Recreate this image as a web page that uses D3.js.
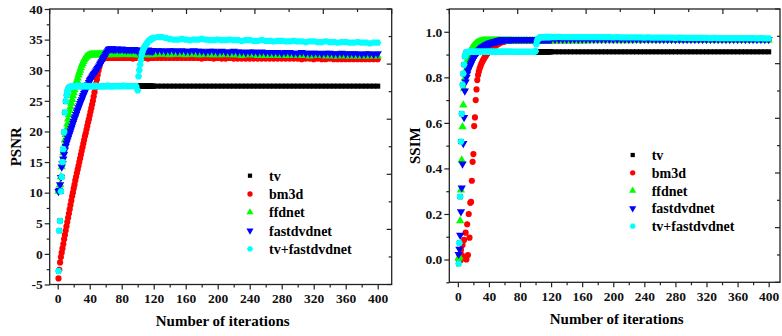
<!DOCTYPE html>
<html>
<head>
<meta charset="utf-8">
<script src="https://cdn.jsdelivr.net/npm/d3@7"></script>
<style>
  body { margin: 0; background: #fff; }
  svg { display: block; font-family: 'Liberation Serif', 'Times New Roman', serif; font-weight: bold; }
</style>
</head>
<body>
<svg id="chart" width="782" height="336"></svg>
<script>
// iteration grid shared by every series (dense where the curves move fast)
const iterations = [...d3.range(1, 71), ...d3.range(72, 101, 2), ...d3.range(101, 121), ...d3.range(125, 401, 5)];

const seriesNames = ['tv', 'bm3d', 'ffdnet', 'fastdvdnet', 'tv+fastdvdnet'];
const seriesColors = ['#000000', '#ff0000', '#00ff00', '#0000ff', '#00ffff'];

const xTicks = [0, 40, 80, 120, 160, 200, 240, 280, 320, 360, 400];
const psnrTicks = [-5, 0, 5, 10, 15, 20, 25, 30, 35, 40];
const ssimTicks = [0, 0.2, 0.4, 0.6, 0.8, 1.0];

// ---- PSNR ----
const tvPsnr = [
  -2.8, 3.8, 5.4, 10.2, 12.6, 15.0, 17.1, 19.9, 23.1, 24.9,
  25.9, 26.5, 26.9, 27.1, 27.2, 27.3, 27.3, 27.3, 27.4, 27.4,
  27.4, 27.4, 27.4, 27.4, 27.4, 27.4, 27.4, 27.4, 27.4, 27.4,
  27.4, 27.4, 27.4, 27.4, 27.4, 27.4, 27.4, 27.4, 27.4, 27.4,
  27.4, 27.4, 27.4, 27.4, 27.4, 27.4, 27.4, 27.4, 27.4, 27.4,
  27.4, 27.4, 27.4, 27.4, 27.4, 27.4, 27.4, 27.4, 27.4, 27.4,
  27.4, 27.4, 27.4, 27.4, 27.4, 27.4, 27.4, 27.4, 27.4, 27.4,
  27.4, 27.4, 27.4, 27.4, 27.4, 27.4, 27.4, 27.4, 27.4, 27.4, 27.4, 27.4, 27.4, 27.4, 27.4,
  27.4, 27.4, 27.4, 27.4, 27.4, 27.4, 27.4, 27.4, 27.4, 27.4,
  27.4, 27.4, 27.4, 27.4, 27.4, 27.4, 27.4, 27.4, 27.4, 27.4,
  27.4, 27.4, 27.4, 27.4, 27.4, 27.4, 27.4, 27.4, 27.4, 27.4,
  27.4, 27.4, 27.4, 27.4, 27.4, 27.4, 27.4, 27.4, 27.4, 27.4,
  27.4, 27.4, 27.4, 27.4, 27.4, 27.4, 27.4, 27.4, 27.4, 27.4,
  27.4, 27.4, 27.4, 27.4, 27.4, 27.4, 27.4, 27.4, 27.4, 27.4,
  27.4, 27.4, 27.4, 27.4, 27.4, 27.4, 27.4, 27.4, 27.4, 27.4,
  27.4, 27.4, 27.4, 27.4, 27.4, 27.4
];
const bm3dPsnr = [
  -4.0, -2.6, -1.4, -0.5, 0.2, 0.9, 1.6, 2.4, 3.1, 3.8,
  4.5, 5.2, 5.9, 6.6, 7.3, 8.0, 8.7, 9.4, 10.0, 10.7,
  11.3, 12.0, 12.6, 13.2, 13.8, 14.4, 15.0, 15.6, 16.2, 16.8,
  17.4, 18.0, 18.6, 19.2, 19.7, 20.3, 20.9, 21.5, 22.0, 22.6,
  23.2, 23.8, 24.4, 25.0, 25.7, 26.4, 27.1, 27.8, 28.5, 29.2,
  29.9, 30.5, 31.0, 31.4, 31.6, 31.8, 31.9, 31.9, 32.0, 32.0,
  32.0, 32.0, 32.0, 32.0, 32.0, 32.1, 32.0, 32.0, 32.0, 32.0,
  32.0, 32.0, 32.0, 32.1, 32.0, 32.0, 32.0, 32.0, 32.0, 32.0, 32.0, 31.9, 32.0, 32.0, 32.0,
  32.0, 32.0, 32.0, 32.0, 31.9, 32.0, 32.0, 32.0, 32.0, 32.0,
  32.0, 32.0, 31.9, 32.0, 32.0, 32.0, 32.0, 32.0, 32.0, 32.0,
  32.0, 32.0, 32.0, 32.0, 32.0, 32.0, 32.0, 32.0, 32.0, 32.0,
  32.0, 31.9, 32.0, 32.0, 31.9, 32.0, 31.9, 31.9, 32.0, 31.9,
  31.9, 31.9, 31.9, 31.9, 31.9, 31.9, 31.9, 31.9, 31.9, 31.9,
  31.9, 31.9, 31.9, 31.9, 31.9, 31.9, 31.8, 31.9, 31.9, 31.8,
  31.9, 31.8, 31.8, 31.9, 31.8, 31.8, 31.8, 31.8, 31.8, 31.8,
  31.8, 31.8, 31.8, 31.8, 31.8, 31.8
];
const ffdnetPsnr = [
  10.2, 10.5, 11.3, 12.6, 14.2, 15.3, 16.5, 17.6, 18.6, 19.5,
  20.4, 21.2, 22.0, 22.7, 23.4, 24.0, 24.6, 25.2, 25.8, 26.3,
  26.8, 27.3, 27.8, 28.3, 28.7, 29.2, 29.6, 30.0, 30.4, 30.8,
  31.1, 31.4, 31.7, 31.9, 32.1, 32.2, 32.3, 32.4, 32.4, 32.5,
  32.5, 32.5, 32.6, 32.5, 32.5, 32.6, 32.5, 32.5, 32.6, 32.6,
  32.5, 32.6, 32.6, 32.5, 32.6, 32.6, 32.6, 32.5, 32.6, 32.6,
  32.6, 32.6, 32.5, 32.6, 32.6, 32.6, 32.6, 32.6, 32.5, 32.6,
  32.6, 32.6, 32.6, 32.5, 32.6, 32.6, 32.6, 32.6, 32.6, 32.5, 32.6, 32.6, 32.6, 32.6, 32.5,
  32.5, 32.5, 32.6, 32.6, 32.5, 32.6, 32.6, 32.6, 32.5, 32.6,
  32.6, 32.6, 32.6, 32.5, 32.6, 32.6, 32.6, 32.6, 32.5, 32.6,
  32.6, 32.6, 32.6, 32.5, 32.6, 32.6, 32.6, 32.5, 32.6, 32.6,
  32.5, 32.5, 32.6, 32.5, 32.5, 32.5, 32.5, 32.6, 32.5, 32.5,
  32.5, 32.4, 32.5, 32.5, 32.5, 32.4, 32.5, 32.4, 32.4, 32.5,
  32.4, 32.4, 32.4, 32.5, 32.4, 32.4, 32.4, 32.4, 32.3, 32.4,
  32.4, 32.4, 32.3, 32.4, 32.3, 32.3, 32.4, 32.3, 32.3, 32.3,
  32.3, 32.3, 32.3, 32.3, 32.3, 32.3
];
const fastdvdnetPsnr = [
  10.2, 10.4, 11.3, 12.5, 14.2, 14.8, 15.5, 16.3, 17.0, 17.6,
  18.1, 18.5, 18.9, 19.3, 19.7, 20.1, 20.5, 20.9, 21.3, 21.7,
  22.1, 22.4, 22.8, 23.2, 23.5, 23.9, 24.2, 24.6, 24.9, 25.2,
  25.6, 25.9, 26.2, 26.5, 26.8, 27.1, 27.4, 27.7, 28.0, 28.3,
  28.5, 28.7, 28.9, 29.1, 29.3, 29.5, 29.7, 29.9, 30.1, 30.3,
  30.5, 30.7, 31.0, 31.2, 31.4, 31.7, 31.9, 32.1, 32.3, 32.6,
  32.8, 33.0, 33.2, 33.4, 33.5, 33.5, 33.5, 33.5, 33.5, 33.4,
  33.4, 33.5, 33.4, 33.4, 33.5, 33.4, 33.4, 33.3, 33.4, 33.4, 33.3, 33.4, 33.4, 33.3, 33.2,
  33.0, 33.1, 33.1, 33.2, 33.2, 33.2, 33.3, 33.2, 33.2, 33.2,
  33.2, 33.2, 33.3, 33.2, 33.2, 33.2, 33.2, 33.1, 33.2, 33.2,
  33.2, 33.2, 33.1, 33.2, 33.2, 33.1, 33.2, 33.1, 33.1, 33.2,
  33.1, 33.1, 33.0, 33.1, 33.1, 33.0, 33.1, 33.0, 33.0, 33.1,
  33.0, 33.0, 32.9, 33.0, 33.0, 32.9, 33.0, 32.9, 32.9, 32.9,
  32.9, 32.8, 32.9, 32.9, 32.8, 32.8, 32.9, 32.8, 32.8, 32.8,
  32.8, 32.7, 32.8, 32.8, 32.7, 32.7, 32.8, 32.7, 32.7, 32.7,
  32.7, 32.6, 32.7, 32.7, 32.6, 32.7
];
const tvFastPsnr = [
  -2.8, 3.8, 5.4, 10.2, 12.6, 15.0, 17.1, 19.9, 23.1, 24.9,
  25.9, 26.5, 26.9, 27.1, 27.2, 27.3, 27.3, 27.3, 27.4, 27.4,
  27.4, 27.4, 27.4, 27.4, 27.5, 27.4, 27.4, 27.4, 27.4, 27.4,
  27.4, 27.4, 27.4, 27.5, 27.4, 27.4, 27.4, 27.4, 27.4, 27.4,
  27.4, 27.4, 27.4, 27.4, 27.4, 27.4, 27.5, 27.4, 27.4, 27.4,
  27.4, 27.4, 27.4, 27.4, 27.4, 27.4, 27.4, 27.4, 27.4, 27.4,
  27.4, 27.4, 27.5, 27.4, 27.4, 27.4, 27.4, 27.4, 27.4, 27.4,
  27.4, 27.4, 27.4, 27.4, 27.4, 27.5, 27.4, 27.4, 27.4, 27.4, 27.4, 27.4, 27.4, 27.4, 26.7,
  29.0, 30.0, 30.9, 31.7, 32.5, 33.0, 33.4, 33.7, 33.9, 34.1,
  34.3, 34.5, 34.7, 34.8, 34.9, 35.0, 35.1, 35.2, 35.2, 35.3,
  35.4, 35.4, 35.3, 35.1, 35.0, 35.0, 35.1, 35.0, 34.9, 35.0,
  35.0, 35.1, 35.0, 34.9, 34.9, 35.0, 34.9, 34.9, 35.0, 34.9,
  34.9, 34.8, 34.9, 34.9, 34.8, 34.8, 34.9, 34.8, 34.8, 34.7,
  34.8, 34.8, 34.7, 34.7, 34.8, 34.7, 34.7, 34.6, 34.7, 34.7,
  34.6, 34.6, 34.7, 34.6, 34.6, 34.5, 34.6, 34.6, 34.5, 34.5,
  34.6, 34.5, 34.5, 34.4, 34.5, 34.5
];

// ---- SSIM ----
const tvSsim = [
  -0.018, 0.073, 0.276, 0.518, 0.640, 0.768, 0.816, 0.856, 0.892, 0.905,
  0.909, 0.911, 0.912, 0.912, 0.912, 0.912, 0.912, 0.912, 0.912, 0.912,
  0.912, 0.912, 0.912, 0.912, 0.912, 0.912, 0.912, 0.912, 0.912, 0.912,
  0.912, 0.912, 0.912, 0.912, 0.912, 0.912, 0.912, 0.912, 0.912, 0.912,
  0.912, 0.912, 0.912, 0.912, 0.912, 0.912, 0.912, 0.912, 0.912, 0.912,
  0.912, 0.912, 0.912, 0.912, 0.912, 0.912, 0.912, 0.912, 0.912, 0.912,
  0.912, 0.912, 0.912, 0.912, 0.912, 0.912, 0.912, 0.912, 0.912, 0.912,
  0.912, 0.912, 0.912, 0.912, 0.912, 0.912, 0.912, 0.912, 0.912, 0.912, 0.912, 0.912, 0.912, 0.912, 0.912,
  0.912, 0.912, 0.912, 0.912, 0.912, 0.912, 0.912, 0.912, 0.912, 0.912,
  0.912, 0.912, 0.912, 0.912, 0.912, 0.912, 0.912, 0.912, 0.912, 0.912,
  0.912, 0.912, 0.912, 0.912, 0.912, 0.912, 0.912, 0.912, 0.912, 0.912,
  0.912, 0.912, 0.912, 0.912, 0.912, 0.912, 0.912, 0.912, 0.912, 0.912,
  0.912, 0.912, 0.912, 0.912, 0.912, 0.912, 0.912, 0.912, 0.912, 0.912,
  0.912, 0.912, 0.912, 0.912, 0.912, 0.912, 0.912, 0.912, 0.912, 0.912,
  0.912, 0.912, 0.912, 0.912, 0.912, 0.912, 0.912, 0.912, 0.912, 0.912,
  0.912, 0.912, 0.912, 0.912, 0.912, 0.912
];
const bm3dSsim = [
  0.000, 0.020, -0.005, 0.042, 0.020, 0.064, 0.005, 0.086, 0.010, 0.118,
  0.000, 0.155, 0.020, 0.200, 0.096, 0.249, 0.253, 0.346, 0.429, 0.463,
  0.586, 0.624, 0.700, 0.747, 0.788, 0.810, 0.825, 0.838, 0.848, 0.857,
  0.865, 0.872, 0.878, 0.884, 0.890, 0.895, 0.900, 0.905, 0.909, 0.913,
  0.917, 0.920, 0.924, 0.927, 0.930, 0.933, 0.936, 0.938, 0.941, 0.943,
  0.945, 0.947, 0.949, 0.951, 0.953, 0.954, 0.955, 0.956, 0.957, 0.958,
  0.959, 0.959, 0.960, 0.960, 0.960, 0.961, 0.961, 0.961, 0.961, 0.961,
  0.961, 0.961, 0.961, 0.962, 0.961, 0.962, 0.962, 0.962, 0.962, 0.962, 0.962, 0.962, 0.962, 0.962, 0.962,
  0.962, 0.962, 0.962, 0.962, 0.962, 0.962, 0.962, 0.962, 0.962, 0.962,
  0.962, 0.962, 0.962, 0.962, 0.962, 0.962, 0.962, 0.962, 0.962, 0.962,
  0.962, 0.962, 0.962, 0.962, 0.962, 0.963, 0.962, 0.963, 0.963, 0.963,
  0.963, 0.963, 0.963, 0.963, 0.963, 0.963, 0.963, 0.963, 0.963, 0.963,
  0.963, 0.964, 0.963, 0.964, 0.964, 0.964, 0.964, 0.964, 0.964, 0.964,
  0.964, 0.964, 0.964, 0.964, 0.964, 0.965, 0.964, 0.965, 0.965, 0.965,
  0.965, 0.965, 0.965, 0.965, 0.965, 0.965, 0.965, 0.965, 0.965, 0.965,
  0.965, 0.965, 0.965, 0.965, 0.965, 0.965
];
const ffdnetSsim = [
  0.005, 0.012, 0.170, 0.305, 0.437, 0.583, 0.678, 0.750, 0.795, 0.830,
  0.855, 0.872, 0.886, 0.897, 0.906, 0.914, 0.921, 0.927, 0.932, 0.937,
  0.941, 0.944, 0.947, 0.950, 0.952, 0.954, 0.955, 0.956, 0.957, 0.958,
  0.959, 0.959, 0.960, 0.960, 0.960, 0.960, 0.960, 0.960, 0.960, 0.960,
  0.960, 0.960, 0.960, 0.960, 0.960, 0.960, 0.960, 0.960, 0.960, 0.960,
  0.960, 0.960, 0.960, 0.960, 0.960, 0.960, 0.960, 0.960, 0.960, 0.960,
  0.960, 0.960, 0.960, 0.960, 0.960, 0.960, 0.960, 0.960, 0.960, 0.960,
  0.960, 0.960, 0.960, 0.960, 0.960, 0.960, 0.960, 0.960, 0.960, 0.960, 0.960, 0.960, 0.960, 0.960, 0.960,
  0.960, 0.960, 0.960, 0.960, 0.960, 0.960, 0.960, 0.960, 0.960, 0.960,
  0.960, 0.960, 0.960, 0.960, 0.960, 0.960, 0.960, 0.960, 0.960, 0.960,
  0.960, 0.960, 0.960, 0.960, 0.960, 0.960, 0.960, 0.960, 0.960, 0.961,
  0.961, 0.961, 0.961, 0.961, 0.961, 0.961, 0.961, 0.961, 0.961, 0.961,
  0.962, 0.962, 0.962, 0.962, 0.962, 0.962, 0.962, 0.962, 0.962, 0.962,
  0.962, 0.963, 0.963, 0.963, 0.963, 0.963, 0.963, 0.963, 0.963, 0.963,
  0.963, 0.963, 0.964, 0.964, 0.964, 0.964, 0.964, 0.964, 0.964, 0.964,
  0.964, 0.964, 0.964, 0.964, 0.964, 0.964
];
const fastdvdnetSsim = [
  0.023, 0.046, 0.107, 0.210, 0.315, 0.420, 0.510, 0.624, 0.740, 0.780,
  0.800, 0.815, 0.828, 0.838, 0.845, 0.852, 0.860, 0.868, 0.875, 0.882,
  0.888, 0.894, 0.899, 0.904, 0.909, 0.913, 0.917, 0.921, 0.924, 0.927,
  0.930, 0.933, 0.935, 0.937, 0.939, 0.941, 0.943, 0.945, 0.947, 0.948,
  0.950, 0.951, 0.952, 0.953, 0.954, 0.955, 0.956, 0.957, 0.958, 0.959,
  0.960, 0.961, 0.962, 0.963, 0.963, 0.964, 0.965, 0.965, 0.966, 0.966,
  0.967, 0.967, 0.967, 0.967, 0.967, 0.967, 0.967, 0.967, 0.967, 0.967,
  0.967, 0.967, 0.967, 0.967, 0.967, 0.967, 0.967, 0.967, 0.967, 0.967, 0.967, 0.967, 0.967, 0.967, 0.967,
  0.967, 0.967, 0.967, 0.967, 0.967, 0.967, 0.967, 0.967, 0.967, 0.967,
  0.967, 0.967, 0.967, 0.967, 0.967, 0.967, 0.967, 0.967, 0.967, 0.967,
  0.967, 0.967, 0.967, 0.967, 0.967, 0.967, 0.967, 0.967, 0.967, 0.967,
  0.967, 0.967, 0.967, 0.967, 0.967, 0.967, 0.967, 0.967, 0.967, 0.967,
  0.967, 0.967, 0.967, 0.967, 0.966, 0.967, 0.966, 0.966, 0.966, 0.966,
  0.966, 0.966, 0.966, 0.966, 0.966, 0.966, 0.966, 0.966, 0.966, 0.966,
  0.966, 0.966, 0.966, 0.966, 0.966, 0.966, 0.966, 0.966, 0.966, 0.966,
  0.966, 0.966, 0.966, 0.966, 0.966, 0.966
];
const tvFastSsim = [
  -0.018, 0.073, 0.276, 0.518, 0.640, 0.768, 0.816, 0.856, 0.892, 0.905,
  0.909, 0.911, 0.912, 0.912, 0.912, 0.912, 0.912, 0.912, 0.912, 0.912,
  0.912, 0.912, 0.912, 0.912, 0.912, 0.912, 0.912, 0.912, 0.912, 0.912,
  0.912, 0.912, 0.912, 0.912, 0.912, 0.912, 0.912, 0.912, 0.912, 0.912,
  0.912, 0.912, 0.912, 0.912, 0.912, 0.912, 0.912, 0.912, 0.912, 0.912,
  0.912, 0.912, 0.912, 0.912, 0.912, 0.912, 0.912, 0.912, 0.912, 0.912,
  0.912, 0.912, 0.912, 0.912, 0.912, 0.912, 0.912, 0.912, 0.912, 0.912,
  0.912, 0.912, 0.912, 0.912, 0.912, 0.912, 0.912, 0.912, 0.912, 0.912, 0.912, 0.912, 0.912, 0.912, 0.915,
  0.945, 0.960, 0.968, 0.972, 0.974, 0.975, 0.976, 0.976, 0.977, 0.977,
  0.977, 0.977, 0.978, 0.977, 0.977, 0.978, 0.977, 0.977, 0.978, 0.977,
  0.977, 0.978, 0.977, 0.977, 0.977, 0.977, 0.977, 0.976, 0.977, 0.976,
  0.976, 0.976, 0.976, 0.976, 0.976, 0.975, 0.976, 0.975, 0.975, 0.975,
  0.975, 0.975, 0.975, 0.974, 0.975, 0.974, 0.974, 0.974, 0.974, 0.974,
  0.974, 0.973, 0.974, 0.973, 0.973, 0.973, 0.973, 0.973, 0.973, 0.973,
  0.972, 0.973, 0.972, 0.972, 0.972, 0.972, 0.972, 0.972, 0.972, 0.972,
  0.972, 0.972, 0.971, 0.972, 0.971, 0.971
];

const svg = d3.select('#chart');
const MIRROR_STEP = 34.2; // spacing of the ticks on the top / right frame edges

// hexagon marker for the last series
const symbolHexagon = {
  draw(context, size) {
    const r = Math.sqrt(size / 2.598);
    for (let k = 0; k < 6; k++) {
      const a = Math.PI / 3 * k;
      if (k === 0) context.moveTo(r * Math.cos(a), r * Math.sin(a));
      else context.lineTo(r * Math.cos(a), r * Math.sin(a));
    }
    context.closePath();
  }
};

// Origin style markers: square, circle, up triangle, down triangle, hexagon
const symbols = [
  d3.symbol(d3.symbolSquare, 26),
  d3.symbol(d3.symbolCircle, 30),
  d3.symbol(d3.symbolTriangle, 30),
  d3.symbol(d3.symbolTriangle, 30),
  d3.symbol(symbolHexagon, 34),
];
const legendSymbols = [
  d3.symbol(d3.symbolSquare, 18),
  d3.symbol(d3.symbolCircle, 22),
  d3.symbol(d3.symbolTriangle, 22),
  d3.symbol(d3.symbolTriangle, 22),
  d3.symbol(symbolHexagon, 24),
];
const markerRotate = i => (i === 3 ? ' rotate(180)' : '');

function drawPanel(p) {
  const g = svg.append('g');
  const [xl, xr] = p.x.range();
  const [yb, yt] = p.y.range();

  // Draw each series as dense scatter markers
  p.series.forEach((values, i) => {
    g.append('g')
      .attr('class', 'series')
      .selectAll('path')
      .data(values.map((v, k) => [iterations[k], v]))
      .join('path')
      .attr('transform', d => `translate(${p.x(d[0])},${p.y(d[1])})${markerRotate(i)}`)
      .attr('d', symbols[i]())
      .attr('fill', seriesColors[i]);
  });

  // Frame
  g.append('rect')
    .attr('x', xl).attr('y', yt)
    .attr('width', xr - xl).attr('height', yb - yt)
    .attr('fill', 'none').attr('stroke', '#222').attr('stroke-width', 1.3);

  // Bottom axis: minor + labelled major ticks
  const xMinor = d3.range(0, 401, 20).filter(v => !xTicks.includes(v));
  g.append('g')
    .attr('transform', `translate(0,${yb})`)
    .call(d3.axisBottom(p.x).tickValues(xMinor).tickSize(3).tickFormat(''));
  g.append('g')
    .attr('transform', `translate(0,${yb})`)
    .call(d3.axisBottom(p.x).tickValues(xTicks).tickSize(5).tickPadding(4).tickFormat(d3.format('d')));

  // Left axis
  g.append('g')
    .attr('transform', `translate(${xl},0)`)
    .call(d3.axisLeft(p.y).tickValues(p.yMinor).tickSize(3).tickFormat(''));
  g.append('g')
    .attr('transform', `translate(${xl},0)`)
    .call(d3.axisLeft(p.y).tickValues(p.yTicks).tickSize(5).tickPadding(2).tickFormat(p.yFormat));

  g.selectAll('.domain').remove();
  g.selectAll('.tick line').attr('stroke', '#222').attr('stroke-width', 1.2);
  g.selectAll('.tick text')
    .attr('fill', '#111')
    .attr('font-size', 13.5)
    .attr('font-family', "'Liberation Serif', serif")
    .attr('font-weight', 'bold');

  // Mirror ticks on top and right edges (inward)
  const topT = d3.range(0, xr - xl + 0.5, MIRROR_STEP);
  g.append('g').selectAll('line').data(topT).join('line')
    .attr('x1', d => xl + d).attr('x2', d => xl + d)
    .attr('y1', yt).attr('y2', (d, i) => yt + (i % 2 ? 3 : 5))
    .attr('stroke', '#222').attr('stroke-width', 1.2);
  const rightStep = (yb - yt) / 10;
  g.append('g').selectAll('line').data(d3.range(0, 11)).join('line')
    .attr('y1', d => yt + d * rightStep).attr('y2', d => yt + d * rightStep)
    .attr('x1', xr).attr('x2', (d, i) => xr - (i % 2 ? 3 : 5))
    .attr('stroke', '#222').attr('stroke-width', 1.2);

  // Axis titles
  g.append('text')
    .attr('x', (xl + xr) / 2 + 2).attr('y', p.xTitleY)
    .attr('text-anchor', 'middle').attr('font-size', 15)
    .text('Number of iterations');
  g.append('text')
    .attr('transform', `translate(${p.yTitleX},${(yb + yt) / 2}) rotate(-90)`)
    .attr('text-anchor', 'middle').attr('font-size', 15)
    .text(p.yTitle);

  // Legend
  const legend = g.append('g').attr('transform', `translate(${p.legendX},${p.legendY})`);
  const item = legend.selectAll('g').data(seriesNames).join('g')
    .attr('transform', (d, i) => `translate(0,${i * p.legendStep})`);
  item.append('path')
    .attr('transform', (d, i) => `translate(0,0)${markerRotate(i)}`)
    .attr('d', (d, i) => legendSymbols[i]())
    .attr('fill', (d, i) => seriesColors[i]);
  item.append('text')
    .attr('x', 19).attr('dy', '0.35em')
    .attr('font-size', 14)
    .text(d => d);
}

drawPanel({
  x: d3.scaleLinear().domain([-10, 417.5]).range([49.7, 391.7]),
  y: d3.scaleLinear().domain([-5, 40]).range([284.5, 9]),
  yTicks: psnrTicks,
  yMinor: d3.range(-2.5, 40, 5),
  yFormat: d => String(d),
  yTitle: 'PSNR',
  yTitleX: 21,
  xTitleY: 326,
  series: [tvPsnr, bm3dPsnr, ffdnetPsnr, fastdvdnetPsnr, tvFastPsnr],
  legendX: 250, legendY: 175.7, legendStep: 18.3,
});

drawPanel({
  x: d3.scaleLinear().domain([-11, 414.6]).range([449.3, 780]),
  y: d3.scaleLinear().domain([-0.1, 1.1]).range([282.3, 9]),
  yTicks: ssimTicks,
  yMinor: [-0.1, 0.1, 0.3, 0.5, 0.7, 0.9, 1.1],
  yFormat: d3.format('.1f'),
  yTitle: 'SSIM',
  yTitleX: 420,
  xTitleY: 323.5,
  series: [tvSsim, bm3dSsim, ffdnetSsim, fastdvdnetSsim, tvFastSsim],
  legendX: 632.7, legendY: 155, legendStep: 17.8,
});
</script>
</body>
</html>
